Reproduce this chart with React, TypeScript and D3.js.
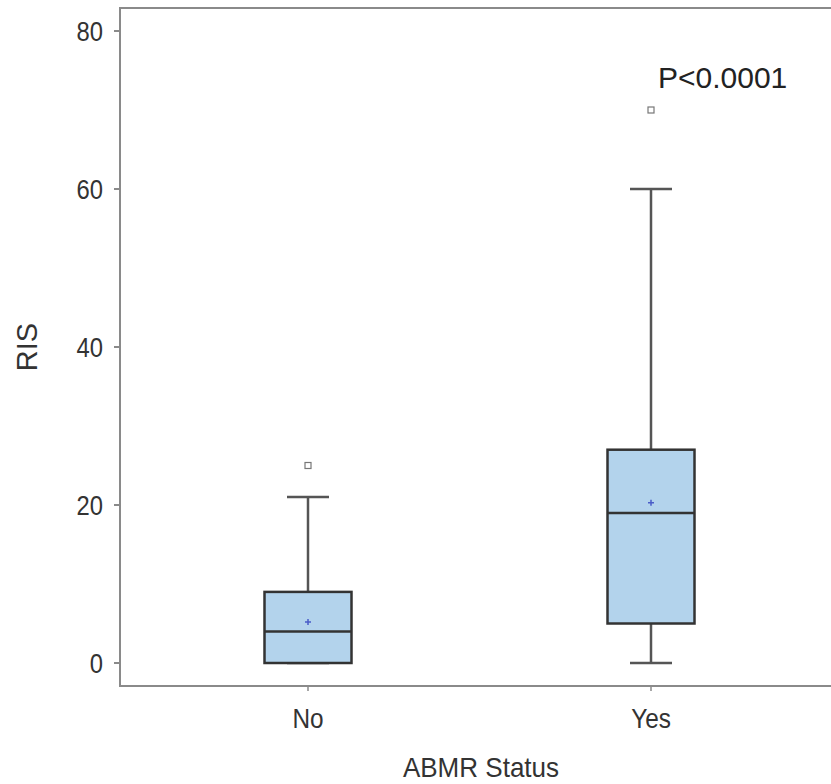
import { scaleLinear, scalePoint } from 'd3'

const categories = ['No', 'Yes']
const q1 = [0, 5]
const medians = [4, 19]
const q3 = [9, 27]
const whiskerLow = [0, 0]
const whiskerHigh = [21, 60]
const means = [5.2, 20.3]
const outliers = [[25], [70]]
const yTicks = [0, 20, 40, 60, 80]

const width = 831,
      height = 784,
      frame = { left: 120, top: 8, right: 840, bottom: 686 },
      boxWidth = 87,
      capWidth = 42

const y = scaleLinear().domain([0, 80]).range([663, 31])
const x = scalePoint<string>().domain(categories).range([308, 651])

const font = '"Liberation Sans", Arial, sans-serif'

export default function App() {
  return (
    <svg width={width} height={height} style={{ position: 'absolute', left: 0, top: 0, background: '#fff' }} fontFamily={font}>
      {/* frame */}
      <path
        d={`M${frame.right},${frame.top} H${frame.left} V${frame.bottom} H${frame.right}`}
        fill='none' stroke='#8a8a8a' strokeWidth='2'
      />

      {/* y axis */}
      {yTicks.map(t =>
        <g key={t} transform={`translate(0, ${y(t)})`}>
          <line x1={frame.left - 6} x2={frame.left} stroke='#8a8a8a' strokeWidth='2' />
          <text transform={`translate(103, 10) scale(0.85, 1)`} textAnchor='end' fontSize='28' fill='#333'>{t}</text>
        </g>
      )}
      <text transform='translate(37, 347) rotate(-90)' textAnchor='middle' fontSize='29' fill='#333'>RIS</text>

      {/* x axis */}
      {categories.map(c =>
        <g key={c} transform={`translate(${x(c)}, 0)`}>
          <line y1={frame.bottom} y2={frame.bottom + 5} stroke='#8a8a8a' strokeWidth='1.5' />
          <text transform={`translate(0, 728) scale(0.87, 1)`} textAnchor='middle' fontSize='28' fill='#333'>{c}</text>
        </g>
      )}
      <text transform='translate(481, 777) scale(0.93, 1)' textAnchor='middle' fontSize='28' fill='#333'>ABMR Status</text>

      {/* boxes */}
      {categories.map((c, i) => {
        const cx = x(c) as number
        return (
          <g key={c}>
            <line x1={cx} x2={cx} y1={y(q3[i])} y2={y(whiskerHigh[i])} stroke='#555' strokeWidth='2.5' />
            <line x1={cx} x2={cx} y1={y(q1[i])} y2={y(whiskerLow[i])} stroke='#555' strokeWidth='2.5' />
            <line x1={cx - capWidth / 2} x2={cx + capWidth / 2} y1={y(whiskerHigh[i])} y2={y(whiskerHigh[i])} stroke='#555' strokeWidth='2.5' />
            <line x1={cx - capWidth / 2} x2={cx + capWidth / 2} y1={y(whiskerLow[i])} y2={y(whiskerLow[i])} stroke='#555' strokeWidth='2.5' />
            <rect
              x={cx - boxWidth / 2} y={y(q3[i])}
              width={boxWidth} height={y(q1[i]) - y(q3[i])}
              fill='#b3d3ec' stroke='#333' strokeWidth='2.5'
            />
            <line x1={cx - boxWidth / 2} x2={cx + boxWidth / 2} y1={y(medians[i])} y2={y(medians[i])} stroke='#333' strokeWidth='2.5' />
            <path
              d={`M${cx - 3},${y(means[i])} h6 M${cx},${y(means[i]) - 3} v6`}
              stroke='#4a5cc8' strokeWidth='1.5'
            />
            {outliers[i].map((o, j) =>
              <rect key={j} x={cx - 3} y={y(o) - 3} width='6' height='6' fill='#fff' stroke='#777' strokeWidth='1.2' />
            )}
          </g>
        )
      })}

      <text x='658' y='88' fontSize='30' fill='#222'>P&lt;0.0001</text>
    </svg>
  )
}
